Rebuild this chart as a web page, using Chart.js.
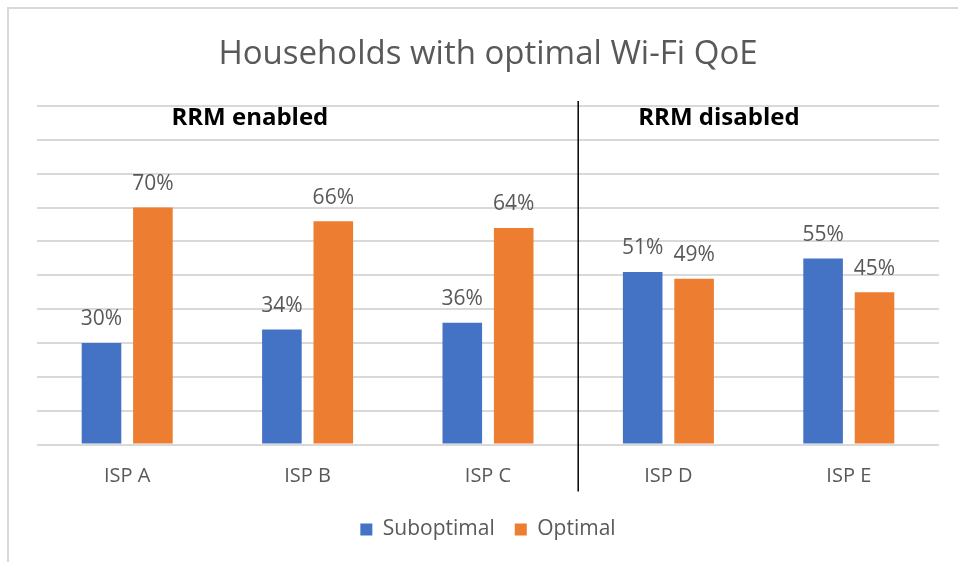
<!DOCTYPE html>
<html>
<head>
<meta charset="utf-8">
<script src="https://cdn.jsdelivr.net/npm/chart.js@4.4.0/dist/chart.umd.min.js"></script>
<style>
  html, body { margin: 0; padding: 0; background: #fff; overflow: hidden; }
  #frame { position: absolute; left: 7px; top: 7px; width: 1000px; height: 600px; border: 2px solid #d9d9d9; }
  #wrap { position: absolute; left: 0; top: 0; width: 958px; height: 562px; }
</style>
</head>
<body>
<div id="frame"></div>
<div id="wrap"><canvas id="qoeChart" width="958" height="562"></canvas></div>
<script>
// dane wykresu
const categories = ['ISP A', 'ISP B', 'ISP C', 'ISP D', 'ISP E'];
const suboptimal = [30, 34, 36, 51, 55];
const optimal = [70, 66, 64, 49, 45];
const seriesNames = ['Suboptimal', 'Optimal'];
const groupLabels = ['RRM enabled', 'RRM disabled'];
const groupLabelPos = [0.68, 3.28]; // w jednostkach kategorii
const groupLabelLevel = 96.5;       // w procentach (os Y)
const dividerAfter = 2;             // linia miedzy ISP C a ISP D

const textGrey = '#595959';
Chart.defaults.font.family = "'Open Sans', sans-serif";
Chart.defaults.color = textGrey;

// etykiety nad slupkami, naglowki grup i pionowa linia
const extrasPlugin = {
    id: 'extras',
    afterDatasetsDraw(chart) {
        const ctx = chart.ctx;
        const xs = chart.scales.x;
        const ys = chart.scales.y;
        const area = chart.chartArea;

        // wartosci procentowe
        ctx.save();
        ctx.font = "21px 'Open Sans', sans-serif";
        ctx.fillStyle = textGrey;
        ctx.textAlign = 'center';
        ctx.textBaseline = 'bottom';
        chart.data.datasets.forEach((ds, di) => {
            const meta = chart.getDatasetMeta(di);
            meta.data.forEach((bar, i) => {
                ctx.fillText(ds.data[i] + '%', bar.x, bar.y - 13);
            });
        });
        ctx.restore();

        // naglowki grup
        ctx.save();
        ctx.font = "bold 24px 'Open Sans', sans-serif";
        ctx.fillStyle = '#000';
        ctx.textAlign = 'center';
        ctx.textBaseline = 'middle';
        groupLabels.forEach((txt, i) => {
            ctx.fillText(txt, xs.getPixelForValue(groupLabelPos[i]), ys.getPixelForValue(groupLabelLevel));
        });
        ctx.restore();

        // pionowa linia
        const lx = (xs.getPixelForValue(dividerAfter) + xs.getPixelForValue(dividerAfter + 1)) / 2;
        ctx.save();
        ctx.strokeStyle = '#000';
        ctx.lineWidth = 1.5;
        ctx.beginPath();
        ctx.moveTo(lx, area.top - 5);
        ctx.lineTo(lx, area.bottom + 47);
        ctx.stroke();
        ctx.restore();
    }
};

const data = {
    labels: categories,
    datasets: [{
        label: seriesNames[0],
        data: suboptimal,
        backgroundColor: '#4472C4'
    }, {
        label: seriesNames[1],
        data: optimal,
        backgroundColor: '#ED7D31'
    }]
};

const config = {
    type: 'bar',
    data: data,
    options: {
        responsive: false,
        animation: false,
        devicePixelRatio: 1,
        categoryPercentage: 0.57,
        barPercentage: 0.77,
        layout: {
            padding: { left: 37, right: 19, top: 35, bottom: 12 }
        },
        plugins: {
            title: {
                display: true,
                text: 'Households with optimal Wi-Fi QoE',
                color: textGrey,
                font: { size: 33, weight: 'normal' },
                padding: { top: 0, bottom: 31.5 }
            },
            legend: {
                position: 'bottom',
                labels: {
                    boxWidth: 12,
                    boxHeight: 12,
                    padding: 20,
                    color: textGrey,
                    font: { size: 21 }
                }
            },
            tooltip: { enabled: false }
        },
        scales: {
            x: {
                grid: { display: false },
                border: { display: false },
                ticks: {
                    color: textGrey,
                    font: { size: 20 },
                    padding: 12
                },
                afterFit(scale) {
                    scale.height -= 1.5;
                }
            },
            y: {
                min: 0,
                max: 100,
                ticks: { display: false, stepSize: 10 },
                border: { display: false },
                grid: { color: '#d9d9d9', lineWidth: 2, drawTicks: false }
            }
        }
    },
    plugins: [extrasPlugin]
};

const ctx = document.getElementById('qoeChart');
const myChart = new Chart(ctx, config);
window.myChart = myChart;
</script>
</body>
</html>
